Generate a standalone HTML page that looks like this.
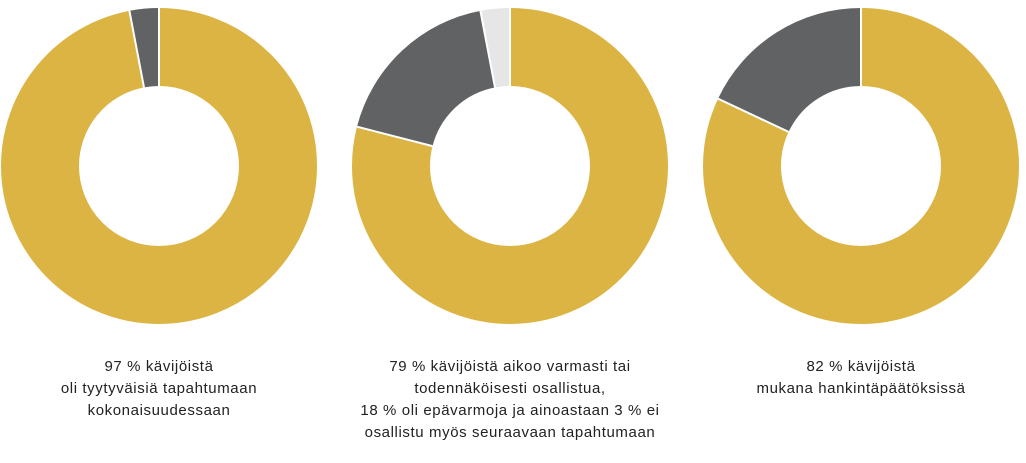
<!DOCTYPE html>
<html><head><meta charset="utf-8"><style>
body{margin:0;background:#fff;width:1026px;height:463px;overflow:hidden;font-family:"Liberation Sans",sans-serif}
svg{position:absolute;left:0;top:0}
.t{position:absolute;width:400px;text-align:center;font-size:15px;letter-spacing:0.6px;line-height:22px;color:#222;top:356px}
</style></head><body>
<svg width="1026" height="463">
<g fill="none" stroke-width="78">
<g transform="translate(159,166) rotate(-90)">
<circle r="119" stroke="#DBB443" stroke-dasharray="725.3 800"/>
<circle r="119" stroke="#616264" stroke-dasharray="22.43 800" stroke-dashoffset="-725.3"/>
</g>
<g transform="translate(510,166) rotate(-90)">
<circle r="119" stroke="#DBB443" stroke-dasharray="590.7 800"/>
<circle r="119" stroke="#616264" stroke-dasharray="134.6 800" stroke-dashoffset="-590.7"/>
<circle r="119" stroke="#E6E6E6" stroke-dasharray="22.43 800" stroke-dashoffset="-725.3"/>
</g>
<g transform="translate(861,166) rotate(-90)">
<circle r="119" stroke="#DBB443" stroke-dasharray="613.1 800"/>
<circle r="119" stroke="#616264" stroke-dasharray="134.6 800" stroke-dashoffset="-613.1"/>
</g>
</g>
<g stroke="#fff" stroke-width="2">
<line x1="159" y1="86" x2="159" y2="7"/>
<line x1="144" y1="87.4" x2="129.4" y2="10.8"/>
<line x1="510" y1="86" x2="510" y2="7"/>
<line x1="432.5" y1="146.1" x2="357" y2="126.7"/>
<line x1="495" y1="87.4" x2="480.4" y2="10.8"/>
<line x1="861" y1="86" x2="861" y2="7"/>
<line x1="788.6" y1="131.9" x2="718" y2="98.7"/>
</g>
</svg>
<div class="t" style="left:-41px">97 % kävijöistä<br>oli tyytyväisiä tapahtumaan<br>kokonaisuudessaan</div>
<div class="t" style="left:310px">79 % kävijöistä aikoo varmasti tai<br>todennäköisesti osallistua,<br>18 % oli epävarmoja ja ainoastaan 3 % ei<br>osallistu myös seuraavaan tapahtumaan</div>
<div class="t" style="left:661px">82 % kävijöistä<br>mukana hankintäpäätöksissä</div>
</body></html>
